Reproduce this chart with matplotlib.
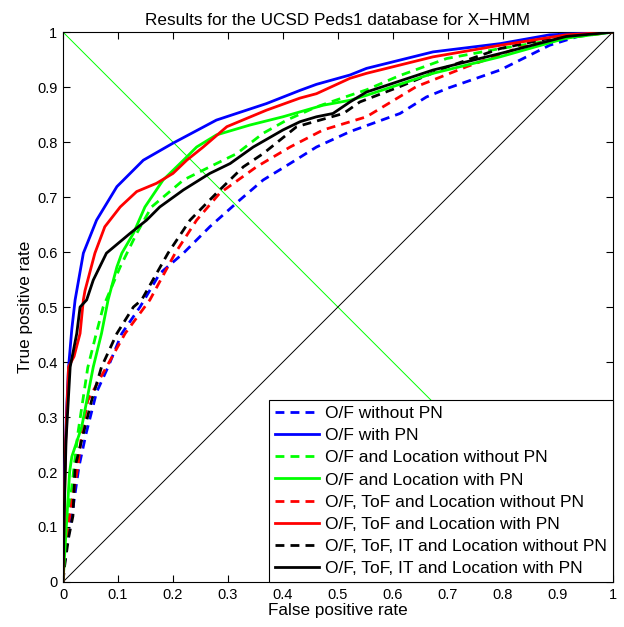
import matplotlib
matplotlib.use("Agg")
import matplotlib.pyplot as plt

plt.rcParams['font.family'] = ['Liberation Sans', 'DejaVu Sans']

title = "Results for the UCSD Peds1 database for X\u2212HMM"
xlabel = "False positive rate"
ylabel = "True positive rate"
ticks = [0, 0.1, 0.2, 0.3, 0.4, 0.5, 0.6, 0.7, 0.8, 0.9, 1]
tick_labels = ["0", "0.1", "0.2", "0.3", "0.4", "0.5", "0.6", "0.7", "0.8", "0.9", "1"]

labels = ["O/F without PN", "O/F with PN",
          "O/F and Location without PN", "O/F and Location with PN",
          "O/F, ToF and Location without PN", "O/F, ToF and Location with PN",
          "O/F, ToF, IT and Location without PN", "O/F, ToF, IT and Location with PN"]

# O/F without PN (blue dashed)
of_nopn_x = [0, 0.004, 0.016, 0.029, 0.042, 0.061, 0.082, 0.107, 0.14, 0.176, 0.219, 0.267, 0.322, 0.364, 0.413, 0.461, 0.522, 0.613, 0.661, 0.70, 0.795, 0.885, 0.946, 1.0]
of_nopn_y = [0, 0.05, 0.12, 0.21, 0.27, 0.345, 0.391, 0.452, 0.50, 0.561, 0.598, 0.646, 0.695, 0.731, 0.761, 0.791, 0.819, 0.852, 0.882, 0.898, 0.931, 0.976, 0.995, 1.0]
# O/F with PN (blue solid)
of_pn_x = [0, 0.002, 0.006, 0.010, 0.016, 0.022, 0.037, 0.061, 0.098, 0.146, 0.2, 0.279, 0.370, 0.431, 0.461, 0.522, 0.552, 0.673, 0.795, 0.885, 1.0]
of_pn_y = [0, 0.15, 0.30, 0.39, 0.46, 0.513, 0.598, 0.658, 0.719, 0.767, 0.798, 0.84, 0.870, 0.894, 0.905, 0.922, 0.934, 0.964, 0.979, 0.995, 1.0]
# O/F and Location without PN (green dashed)
ofl_nopn_x = [0, 0.004, 0.010, 0.016, 0.027, 0.045, 0.060, 0.073, 0.104, 0.134, 0.161, 0.219, 0.267, 0.316, 0.364, 0.407, 0.461, 0.522, 0.552, 0.61, 0.698, 0.795, 0.915, 1.0]
ofl_nopn_y = [0, 0.06, 0.12, 0.173, 0.27, 0.39, 0.45, 0.50, 0.573, 0.634, 0.682, 0.731, 0.755, 0.779, 0.816, 0.84, 0.864, 0.885, 0.895, 0.92, 0.952, 0.97, 0.989, 1.0]
# O/F and Location with PN (green solid)
ofl_pn_x = [0, 0.003, 0.006, 0.012, 0.016, 0.034, 0.055, 0.070, 0.082, 0.098, 0.107, 0.128, 0.149, 0.182, 0.219, 0.243, 0.279, 0.340, 0.4, 0.473, 0.522, 0.552, 0.673, 0.795, 0.915, 1.0]
ofl_pn_y = [0, 0.05, 0.10, 0.20, 0.228, 0.282, 0.391, 0.452, 0.513, 0.573, 0.598, 0.634, 0.682, 0.731, 0.767, 0.791, 0.813, 0.831, 0.846, 0.867, 0.876, 0.885, 0.925, 0.955, 0.989, 1.0]
# O/F, ToF and Location without PN (red dashed)
oftl_nopn_x = [0, 0.003, 0.0073, 0.017, 0.027, 0.034, 0.045, 0.079, 0.113, 0.158, 0.204, 0.243, 0.285, 0.352, 0.413, 0.473, 0.552, 0.643, 0.734, 0.825, 0.915, 1.0]
oftl_nopn_y = [0, 0.04, 0.09, 0.15, 0.21, 0.27, 0.33, 0.391, 0.452, 0.513, 0.598, 0.658, 0.707, 0.755, 0.791, 0.822, 0.846, 0.901, 0.937, 0.97, 0.99, 1.0]
# O/F, ToF and Location with PN (red solid)
oftl_pn_x = [0, 0.002, 0.005, 0.010, 0.020, 0.031, 0.037, 0.04, 0.058, 0.076, 0.104, 0.134, 0.170, 0.2, 0.225, 0.255, 0.298, 0.370, 0.431, 0.461, 0.522, 0.552, 0.673, 0.795, 0.915, 1.0]
oftl_pn_y = [0, 0.12, 0.26, 0.391, 0.41, 0.452, 0.513, 0.530, 0.598, 0.646, 0.682, 0.71, 0.725, 0.743, 0.767, 0.791, 0.828, 0.858, 0.880, 0.888, 0.916, 0.925, 0.955, 0.976, 0.995, 1.0]
# O/F, ToF, IT and Location without PN (black dashed)
ofti_nopn_x = [0, 0.003, 0.010, 0.018, 0.022, 0.037, 0.052, 0.070, 0.098, 0.128, 0.143, 0.191, 0.231, 0.279, 0.328, 0.364, 0.425, 0.510, 0.540, 0.613, 0.70, 0.795, 0.915, 1.0]
ofti_nopn_y = [0, 0.03, 0.08, 0.12, 0.21, 0.27, 0.33, 0.391, 0.452, 0.50, 0.513, 0.598, 0.658, 0.707, 0.755, 0.779, 0.828, 0.852, 0.873, 0.901, 0.937, 0.970, 0.995, 1.0]
# O/F, ToF, IT and Location with PN (black solid)
ofti_pn_x = [0, 0.002, 0.0055, 0.013, 0.025, 0.031, 0.043, 0.055, 0.079, 0.122, 0.152, 0.176, 0.219, 0.267, 0.304, 0.346, 0.4, 0.431, 0.461, 0.491, 0.522, 0.552, 0.673, 0.795, 0.915, 1.0]
ofti_pn_y = [0, 0.12, 0.258, 0.391, 0.452, 0.50, 0.513, 0.549, 0.598, 0.634, 0.658, 0.682, 0.713, 0.743, 0.761, 0.791, 0.822, 0.837, 0.846, 0.852, 0.873, 0.891, 0.931, 0.961, 0.992, 1.0]

series_x = [of_nopn_x, of_pn_x, ofl_nopn_x, ofl_pn_x, oftl_nopn_x, oftl_pn_x, ofti_nopn_x, ofti_pn_x]
series_y = [of_nopn_y, of_pn_y, ofl_nopn_y, ofl_pn_y, oftl_nopn_y, oftl_pn_y, ofti_nopn_y, ofti_pn_y]
colors = ["#0000ff", "#0000ff", "#00ff00", "#00ff00", "#ff0000", "#ff0000", "#000000", "#000000"]
dashed = [True, False, True, False, True, False, True, False]

fig = plt.figure(figsize=(6.24, 6.27), dpi=100)
ax = fig.add_axes([0.101, 0.0718, 0.881, 0.877])

# reference diagonals
ax.plot([0, 1], [1, 0], color="#00ff00", lw=0.7, zorder=1)
ax.plot([0, 1], [0, 1], color="black", lw=0.7, zorder=1)

for x, y, c, d, lab in zip(series_x, series_y, colors, dashed, labels):
    if d:
        ax.plot(x, y, color=c, lw=2, dashes=(3.2, 2.2), label=lab, zorder=2)
    else:
        ax.plot(x, y, color=c, lw=2, label=lab, zorder=3)

ax.set_xlim(0, 1)
ax.set_ylim(0, 1)
ax.set_xticks(ticks)
ax.set_xticklabels(tick_labels)
ax.set_yticks(ticks)
ax.set_yticklabels(tick_labels)
ax.tick_params(direction="in", top=True, right=True, labelsize=10.5, length=5, pad=4)
ax.set_xlabel(xlabel, fontsize=12.3, labelpad=1)
ax.set_ylabel(ylabel, fontsize=12.3, labelpad=3)
ax.set_title(title, fontsize=12.3, pad=5)
for s in ax.spines.values():
    s.set_linewidth(0.8)

leg = ax.legend(loc="lower right", borderaxespad=0, fontsize=12.5, handlelength=2.5,
                frameon=True, fancybox=False, framealpha=1, edgecolor="black",
                labelspacing=0.40, handletextpad=0.35, borderpad=0.35)
leg.get_frame().set_linewidth(0.8)
leg.set_zorder(5)

fig.savefig("out.png", dpi=100)
